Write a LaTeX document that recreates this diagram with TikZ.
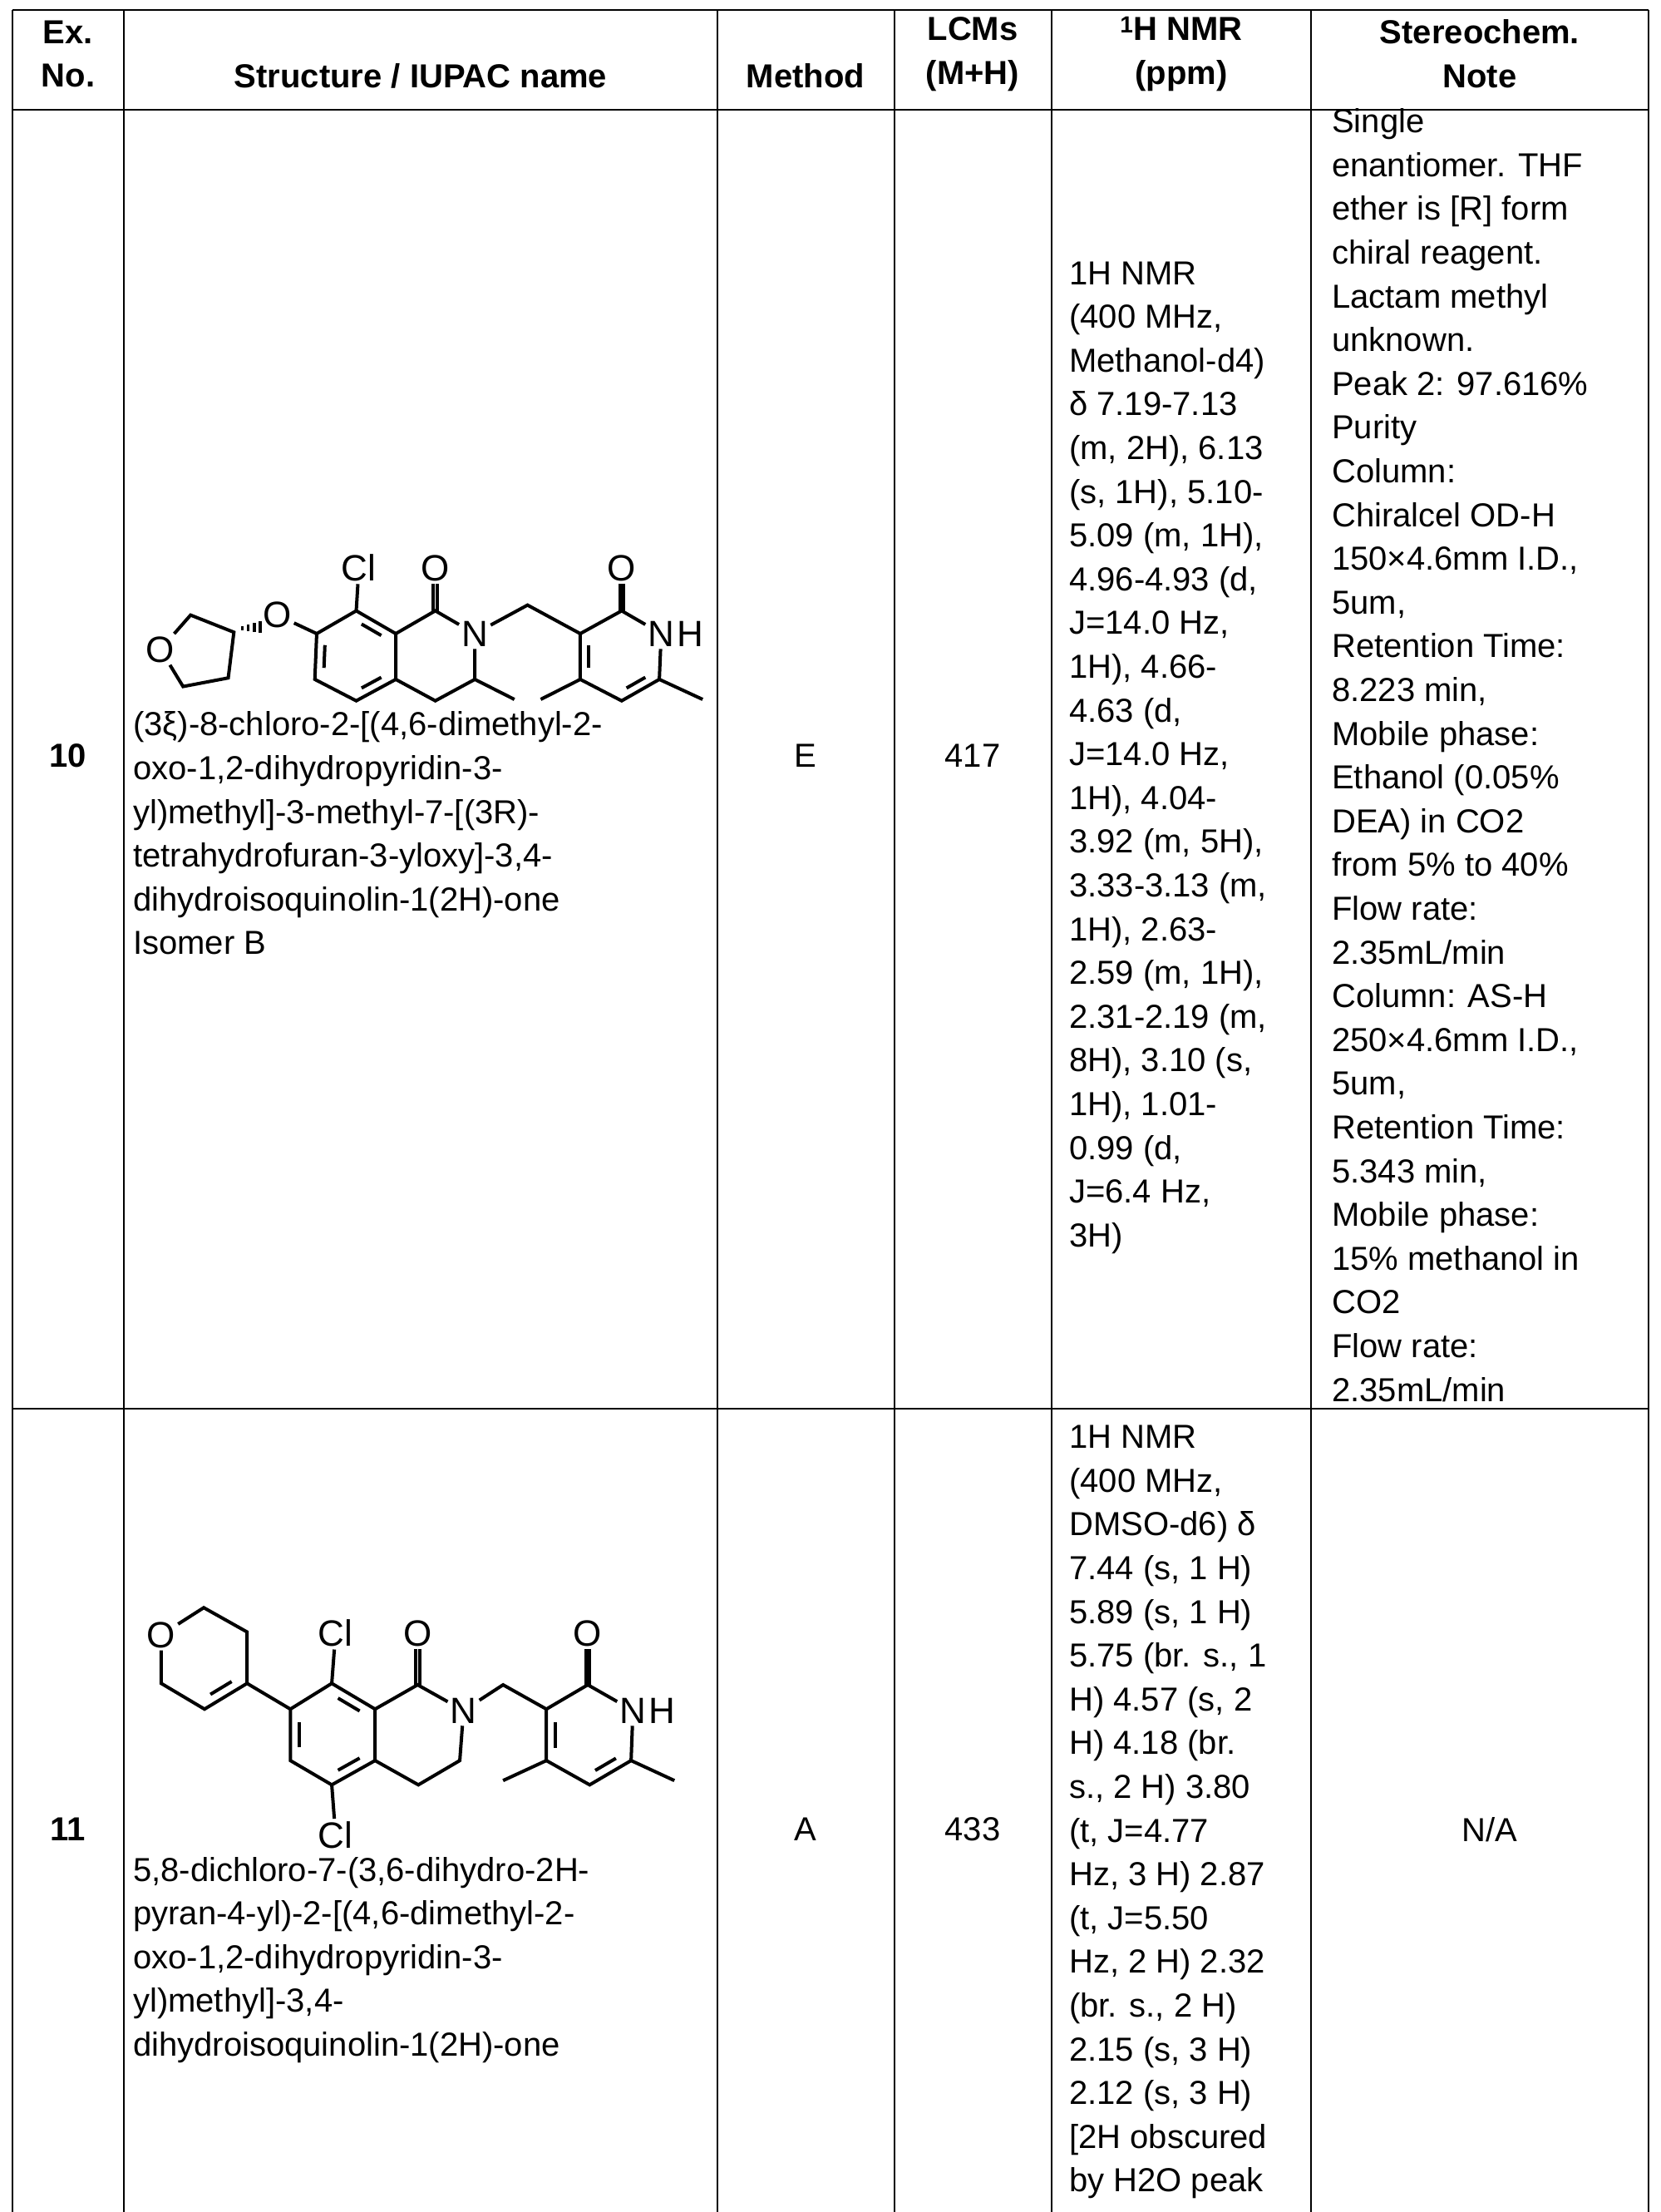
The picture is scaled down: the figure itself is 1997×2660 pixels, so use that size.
\documentclass[tikz,border=0pt]{standalone}
\usepackage{fontspec}
\setmainfont{Liberation Sans}
\usetikzlibrary{calc}
\newcommand\inb[3]{\draw[bond] ($(#1)!.18!(#2)!.22!(#3)$) -- ($(#1)!.82!(#2)!.22!(#3)$);}
\begin{document}
\begin{tikzpicture}[x=1pt,y=-1pt,
  grid/.style={line width=2.5pt},
  txt/.style={font={\fontsize{40}{52.6}\selectfont},inner sep=0pt},
  hdr/.style={txt,font={\fontsize{40}{52.6}\selectfont\bfseries},align=center},
  lft/.style={txt,anchor=west,align=left},
  bond/.style={line width=4pt},
  atom/.style={font={\fontsize{44}{46}\selectfont},inner sep=3pt}]
\useasboundingbox (0,0) rectangle (1997,2660);
\fill[white] (0,0) rectangle (1997,2660);
% table
\coordinate (tl) at (15,12); \coordinate (tr) at (1983,12);
\coordinate (hl) at (15,132); \coordinate (hr) at (1983,132);
\coordinate (rl) at (15,1694); \coordinate (rr) at (1983,1694);
\draw[grid] (tl) -- (tr); \draw[grid] (hl) -- (hr); \draw[grid] (rl) -- (rr);
\foreach \x in {15,149,863,1076,1265,1577,1983} \draw[grid] (\x,12) -- (\x,2665);
% header
\node[hdr] (h1) at (82,65) {Ex.\\No.};
\node[hdr] (h2) at (506,91) {Structure / IUPAC name};
\node[hdr] (h3) at (969,91) {Method};
\node[hdr] (h4) at (1170,65) {LCMs\\(M+H)};
\node[hdr] (h5) at (1421,65) {\textsuperscript{1}H NMR\\(ppm)};
\node[hdr] (h6) at (1780,65) {Stereochem.\\Note};
% row 10
\node[txt,font={\fontsize{40}{52.6}\selectfont\bfseries}] (n10) at (82,909) {10};
\node[txt] (m10) at (969,909) {E};
\node[txt] (l10) at (1170,909) {417};
\node[lft] (i10) at (160,1002) {(3ξ)-8-chloro-2-[(4,6-dimethyl-2-\\oxo-1,2-dihydropyridin-3-\\yl)methyl]-3-methyl-7-[(3R)-\\tetrahydrofuran-3-yloxy]-3,4-\\dihydroisoquinolin-1(2H)-one\\Isomer B};
\node[lft] (r10) at (1286,911) {1H NMR\\(400 MHz,\\Methanol-d4)\\δ 7.19-7.13\\(m, 2H), 6.13\\(s, 1H), 5.10-\\5.09 (m, 1H),\\4.96-4.93 (d,\\J=14.0 Hz,\\1H), 4.66-\\4.63 (d,\\J=14.0 Hz,\\1H), 4.04-\\3.92 (m, 5H),\\3.33-3.13 (m,\\1H), 2.63-\\2.59 (m, 1H),\\2.31-2.19 (m,\\8H), 3.10 (s,\\1H), 1.01-\\0.99 (d,\\J=6.4 Hz,\\3H)};
\node[lft] (s10) at (1602,908) {Single\\enantiomer. THF\\ether is [R] form\\chiral reagent.\\Lactam methyl\\unknown.\\Peak 2: 97.616\%\\Purity\\Column:\\Chiralcel OD-H\\150×4.6mm I.D.,\\5um,\\Retention Time:\\8.223 min,\\Mobile phase:\\Ethanol (0.05\%\\DEA) in CO2\\from 5\% to 40\%\\Flow rate:\\2.35mL/min\\Column: AS-H\\250×4.6mm I.D.,\\5um,\\Retention Time:\\5.343 min,\\Mobile phase:\\15\% methanol in\\CO2\\Flow rate:\\2.35mL/min};
% row 11
\node[txt,font={\fontsize{40}{52.6}\selectfont\bfseries}] (n11) at (82,2200) {11};
\node[txt] (m11) at (969,2200) {A};
\node[txt] (l11) at (1170,2200) {433};
\node[txt] (s11) at (1792,2200) {N/A};
\node[lft] (i11) at (160,2357) {5,8-dichloro-7-(3,6-dihydro-2H-\\pyran-4-yl)-2-[(4,6-dimethyl-2-\\oxo-1,2-dihydropyridin-3-\\yl)methyl]-3,4-\\dihydroisoquinolin-1(2H)-one};
\node[lft,anchor=north west] (r11) at (1286,1714) {1H NMR\\(400 MHz,\\DMSO-d6) δ\\7.44 (s, 1 H)\\5.89 (s, 1 H)\\5.75 (br. s., 1\\H) 4.57 (s, 2\\H) 4.18 (br.\\s., 2 H) 3.80\\(t, J=4.77\\Hz, 3 H) 2.87\\(t, J=5.50\\Hz, 2 H) 2.32\\(br. s., 2 H)\\2.15 (s, 3 H)\\2.12 (s, 3 H)\\{[}2H obscured\\by H2O peak};
% structure 10
\begin{scope}[shift={(150,640)},xscale=0.4529,yscale=0.3436]
\coordinate (a1) at (175,290); \coordinate (a3) at (290,350);
\coordinate (a4) at (275,510); \coordinate (a5) at (155,540);
\node[atom] (ao) at (95,410) {O};
\node[atom] (o7) at (405,290) {O};
\coordinate (b7) at (510,355); \coordinate (b8) at (615,275);
\coordinate (b8a) at (720,355); \coordinate (b4a) at (720,515);
\coordinate (b5) at (615,590); \coordinate (b6) at (505,515);
\coordinate (bc) at (612,435);
\node[atom] (cl) at (622,125) {Cl};
\coordinate (c1) at (825,275);
\node[atom] (o1) at (825,125) {O};
\node[atom] (n2) at (930,355) {N};
\coordinate (c3) at (930,515); \coordinate (c4) at (825,590);
\coordinate (me3) at (1035,585); \coordinate (ch2) at (1070,255);
\coordinate (p3) at (1210,355); \coordinate (p2) at (1320,275);
\node[atom] (p1) at (1425,355) {N};
\node[atom,anchor=west,inner sep=0pt] (p1h) at (p1.east) {H};
\coordinate (p6) at (1420,515); \coordinate (p5) at (1320,590);
\coordinate (p4) at (1210,515); \coordinate (pc) at (1315,435);
\node[atom] (o2p) at (1320,125) {O};
\coordinate (me4) at (1105,585); \coordinate (me6) at (1535,585);
\draw[bond] (ao) -- (a1) -- (a3) -- (a4) -- (a5) -- (ao);
\foreach \xx/\hh in {312/10,328/16,344/22,360/28} \draw[line width=3.4pt] (\xx,340-\hh) -- (\xx,340+\hh*0.4);
\draw[bond] (o7) -- (b7) -- (b8) -- (b8a) -- (b4a) -- (b5) -- (b6) -- (b7);
\inb{b8}{b8a}{bc} \inb{b4a}{b5}{bc} \inb{b6}{b7}{bc}
\draw[bond] (b8) -- (cl);
\draw[bond] (b8a) -- (c1) -- (n2) -- (c3) -- (c4) -- (b4a);
\draw[bond] (c3) -- (me3);
\draw[bond] ([xshift=-5pt]c1) -- ([xshift=-5pt]o1.south);
\draw[bond] ([xshift=5pt]c1) -- ([xshift=5pt]o1.south);
\draw[bond] (n2) -- (ch2) -- (p3) -- (p2) -- (p1) -- (p6) -- (p5) -- (p4) -- (p3);
\inb{p3}{p4}{pc} \inb{p5}{p6}{pc}
\draw[bond] ([xshift=-5pt]p2) -- ([xshift=-5pt]o2p.south);
\draw[bond] ([xshift=5pt]p2) -- ([xshift=5pt]o2p.south);
\draw[bond] (p4) -- (me4); \draw[bond] (p6) -- (me6);
\end{scope}
% structure 11
\begin{scope}[shift={(150,1880)},xscale=0.4529,yscale=0.3436]
\node[atom] (qo) at (97,250) {O};
\coordinate (q2) at (210,155); \coordinate (q3) at (325,240);
\coordinate (q4) at (325,420); \coordinate (q5) at (212,510);
\coordinate (q6) at (97,420); \coordinate (qc) at (211,333);
\coordinate (b7) at (440,510); \coordinate (b8) at (550,420);
\coordinate (b8a) at (665,510); \coordinate (b4a) at (665,690);
\coordinate (b5) at (550,775); \coordinate (b6) at (440,690);
\coordinate (bc) at (552,597);
\node[atom] (cl) at (560,245) {Cl};
\node[atom] (cl2) at (560,950) {Cl};
\coordinate (c1) at (778,425);
\node[atom] (o1) at (778,245) {O};
\node[atom] (n2) at (900,515) {N};
\coordinate (c3) at (890,690); \coordinate (c4) at (780,775);
\coordinate (ch2) at (1005,425);
\coordinate (p3) at (1120,510); \coordinate (p2) at (1230,425);
\node[atom] (p1) at (1350,515) {N};
\node[atom,anchor=west,inner sep=0pt] (p1h) at (p1.east) {H};
\coordinate (p6) at (1345,690); \coordinate (p5) at (1235,775);
\coordinate (p4) at (1120,690); \coordinate (pc) at (1232,600);
\node[atom] (o2p) at (1230,245) {O};
\coordinate (me4) at (1005,760); \coordinate (me6) at (1460,760);
\draw[bond] (qo) -- (q2) -- (q3) -- (q4) -- (q5) -- (q6) -- (qo);
\inb{q4}{q5}{qc}
\draw[bond] (q4) -- (b7) -- (b8) -- (b8a) -- (b4a) -- (b5) -- (b6) -- (b7);
\inb{b8}{b8a}{bc} \inb{b4a}{b5}{bc} \inb{b6}{b7}{bc}
\draw[bond] (b8) -- (cl); \draw[bond] (b5) -- (cl2);
\draw[bond] (b8a) -- (c1) -- (n2) -- (c3) -- (c4) -- (b4a);
\draw[bond] ([xshift=-5pt]c1) -- ([xshift=-5pt]o1.south);
\draw[bond] ([xshift=5pt]c1) -- ([xshift=5pt]o1.south);
\draw[bond] (n2) -- (ch2) -- (p3) -- (p2) -- (p1) -- (p6) -- (p5) -- (p4) -- (p3);
\inb{p3}{p4}{pc} \inb{p5}{p6}{pc}
\draw[bond] ([xshift=-5pt]p2) -- ([xshift=-5pt]o2p.south);
\draw[bond] ([xshift=5pt]p2) -- ([xshift=5pt]o2p.south);
\draw[bond] (p4) -- (me4); \draw[bond] (p6) -- (me6);
\end{scope}
\end{tikzpicture}
\end{document}
